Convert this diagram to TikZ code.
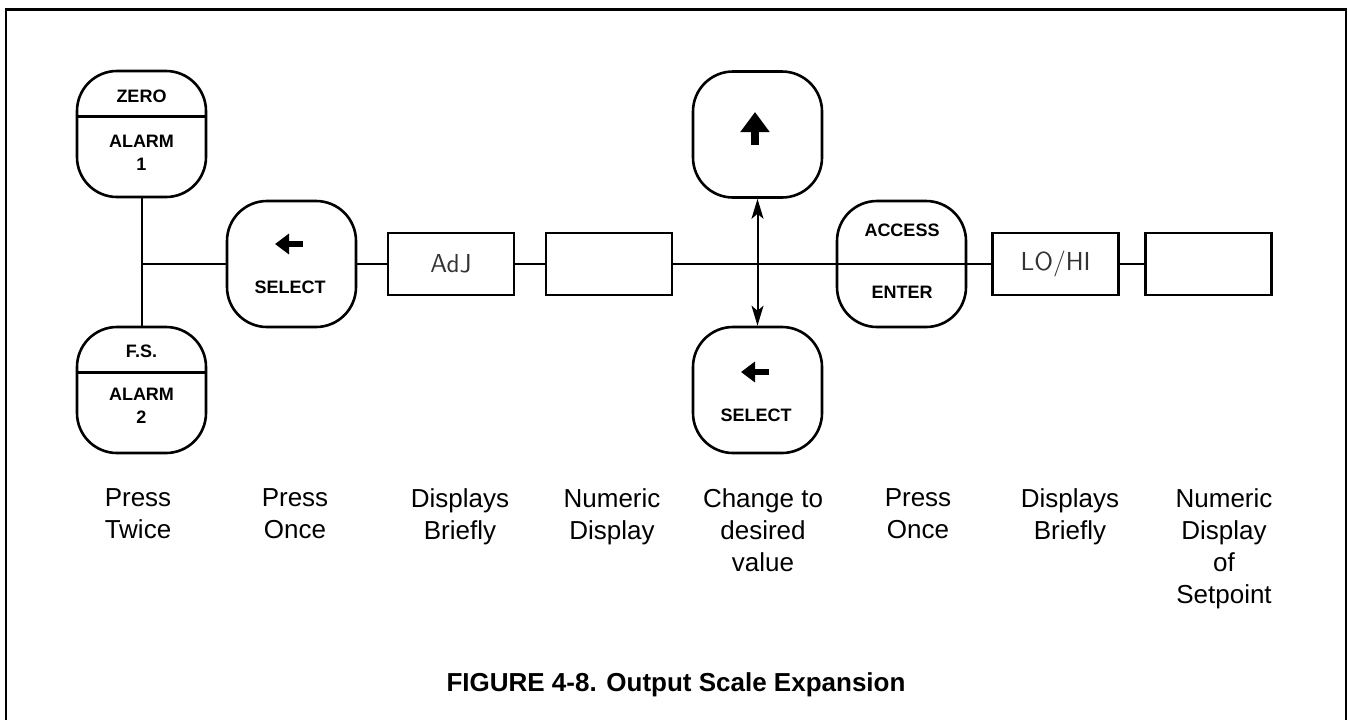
\documentclass[tikz,border=0pt]{standalone}
\usepackage{fontspec}
\setmainfont{Liberation Sans}
\usetikzlibrary{arrows.meta,calc,positioning}

\begin{document}
\begin{tikzpicture}[x=0.5pt, y=-0.5pt,
    key_btn/.style={draw, line width=1.3pt, rounded corners=20pt,
                    minimum width=64.5pt, minimum height=63pt},
    key_txt/.style={font=\fontsize{9}{11.3}\selectfont\bfseries, align=center,
                    inner sep=0pt},
    lcd_box/.style={draw, line width=1.3pt, minimum width=63pt, minimum height=31pt,
                    font=\sffamily\fontsize{13}{13}\selectfont, text=black!80},
    step_txt/.style={font=\fontsize{13}{16}\selectfont, align=center,
                     anchor=north, inner sep=0pt},
    wire/.style={line width=1pt},
    arr/.style={wire, {Stealth[length=10pt,width=6pt,inset=2.5pt]}-{Stealth[length=10pt,width=6pt,inset=2.5pt]}},
    fat_up/.style={line width=4pt, -{Triangle[length=10pt,width=14pt]}},
    fat_left/.style={line width=3pt, -{Triangle[length=7pt,width=10pt]}}
]
\useasboundingbox (0,0) rectangle (1348,719);

% Frame (open at the bottom)
\draw[line width=1.3pt] (6,725) -- (6,9.5) -- (1346,9.5) -- (1346,725);

% Zero / F.S. keys (left)
\node[key_btn] (zero) at (141.5,134) {};
\draw[line width=1.3pt] ($(zero.north west)+(0,47)$) -- ($(zero.north east)+(0,47)$);
\node[key_txt] (zero_t) at (141.5,96) {ZERO};
\node[key_txt] (alarm1_t) at (141.5,153) {ALARM\\1};

\node[key_btn] (fs) at (141.5,390) {};
\draw[line width=1.3pt] ($(fs.north west)+(0,47)$) -- ($(fs.north east)+(0,47)$);
\node[key_txt] (fs_t) at (141.5,351) {F.S.};
\node[key_txt] (alarm2_t) at (141.5,405.5) {ALARM\\2};

% Select key
\node[key_btn] (sel1) at (291.5,264) {};
\draw[fat_left] (303,244) -- (275,244);
\node[key_txt] (sel1_t) at (290,287) {SELECT};

% Displays
\node[lcd_box] (adj) at (451,264) {AdJ};
\node[lcd_box] (num1) at (609,264) {};

% Up / select keys (middle)
\node[key_btn] (up) at (757.5,134.5) {};
\draw[fat_up] (755,145) -- (755,112);

\node[key_btn] (sel2) at (757.5,390) {};
\draw[fat_left] (769,372) -- (741,372);
\node[key_txt] (sel2_t) at (756,415) {SELECT};

% Access / enter key
\node[key_btn] (acc) at (901.5,264) {};
\node[key_txt] (acc_t) at (902,230) {ACCESS};
\node[key_txt] (ent_t) at (902,292) {ENTER};

% Displays (right)
\node[lcd_box] (lohi) at (1055.5,264) {LO/HI};
\node[lcd_box] (num2) at (1208.5,264) {};

% Connectors
\draw[wire] (zero.south) -- (fs.north);
\draw[wire] (zero.south |- sel1.west) -- (sel1.west);
\draw[wire] (sel1.east) -- (adj.west);
\draw[wire] (adj.east) -- (num1.west);
\draw[wire] (num1.east) -- (acc.east);
\draw[wire] (acc.east) -- (lohi.west);
\draw[wire] (lohi.east) -- (num2.west);
\draw[arr] (up.south) -- (sel2.north);

% Step captions
\node[step_txt] (c1) at (138,488) {Press\\Twice};
\node[step_txt] (c2) at (295,488) {Press\\Once};
\node[step_txt] (c3) at (460,488) {Displays\\Briefly};
\node[step_txt] (c4) at (612,488) {Numeric\\Display};
\node[step_txt] (c5) at (763,488) {Change to\\desired\\value};
\node[step_txt] (c6) at (918,488) {Press\\Once};
\node[step_txt] (c7) at (1070,488) {Displays\\Briefly};
\node[step_txt] (c8) at (1224,488) {Numeric\\Display\\of\\Setpoint};

\node[font=\fontsize{13}{16}\selectfont\bfseries, anchor=north, inner sep=0pt]
    (title) at (676,672) {FIGURE 4-8. Output Scale Expansion};

\end{tikzpicture}
\end{document}
